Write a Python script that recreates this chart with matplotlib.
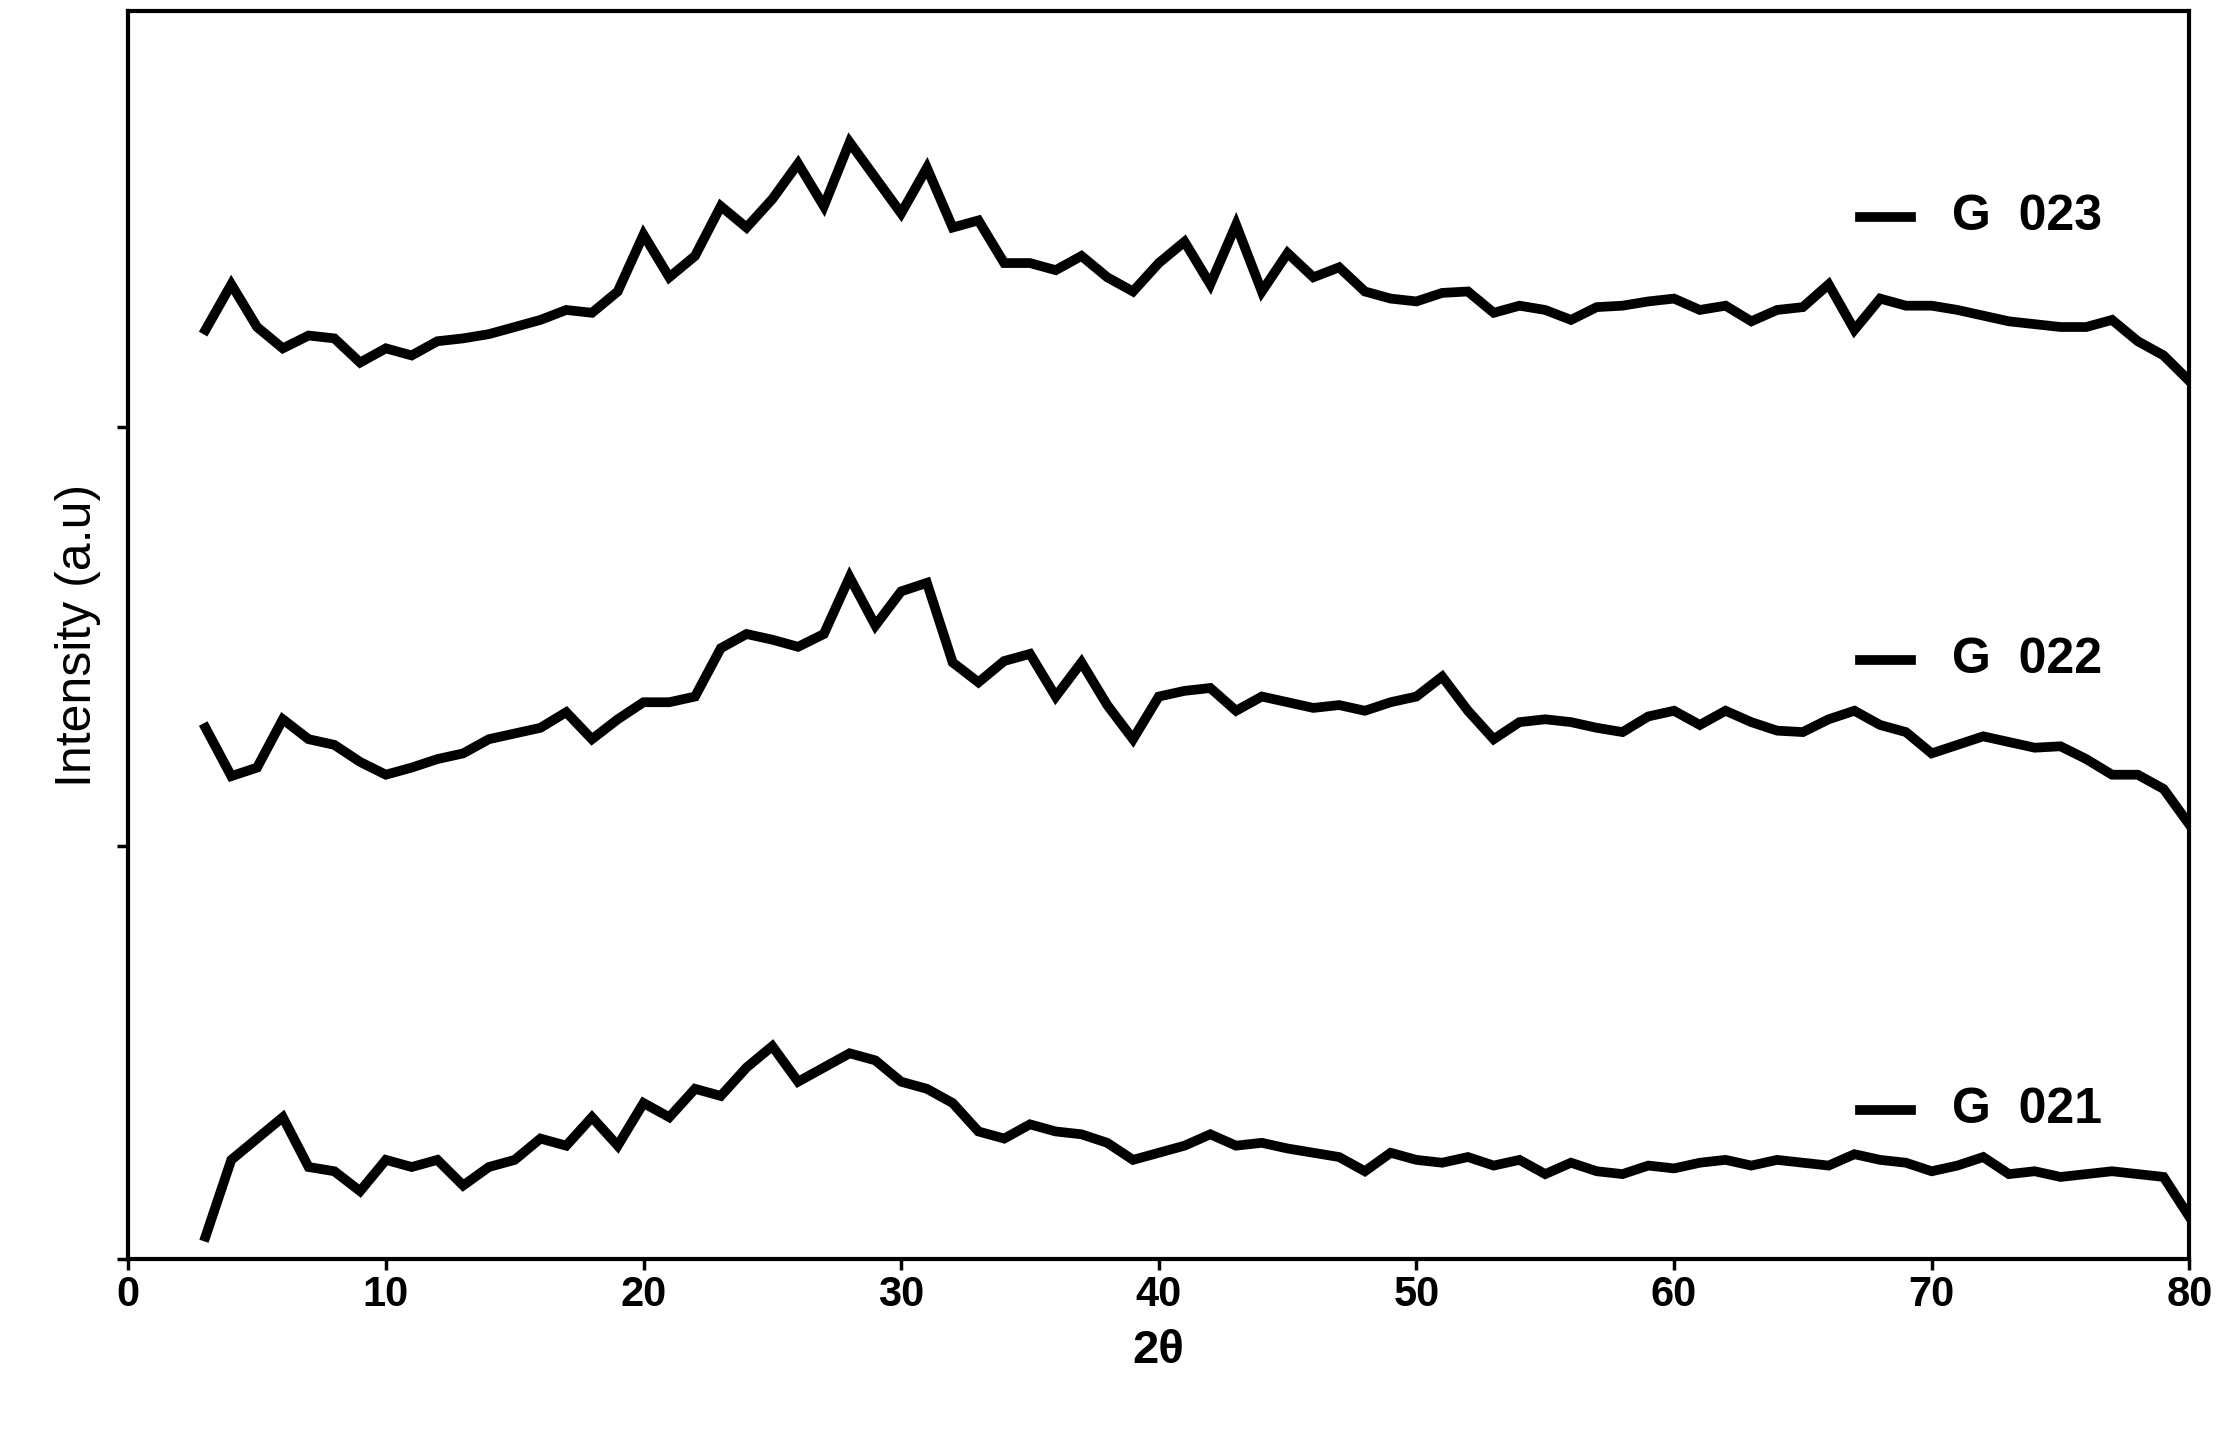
import matplotlib
matplotlib.use('Agg')
import matplotlib.pyplot as plt

plt.rcParams['font.family'] = ['Liberation Sans', 'DejaVu Sans']

two_theta = list(range(3, 81))

g021 = [16, 70, 85, 100, 65, 62, 48, 70, 65, 70, 52, 65, 70, 85, 80, 100, 80, 110, 100, 120,
        115, 135, 150, 125, 135, 145, 140, 125, 120, 110, 90, 85, 95, 90, 88, 82, 70, 75, 80, 88,
        80, 82, 78, 75, 72, 62, 75, 70, 68, 72, 66, 70, 60, 68, 62, 60, 66, 64, 68, 70,
        66, 70, 68, 66, 74, 70, 68, 62, 66, 72, 60, 62, 58, 60, 62, 60, 58, 30]

g022 = [374, 340, 346, 380, 366, 362, 350, 341, 346, 352, 356, 366, 370, 374, 385, 366, 380, 392, 392, 396,
        430, 440, 436, 431, 440, 480, 446, 470, 476, 420, 406, 421, 426, 396, 420, 390, 366, 396, 400, 402,
        386, 396, 392, 388, 390, 386, 392, 396, 410, 386, 366, 378, 380, 378, 374, 371, 382, 386, 376, 386,
        378, 372, 371, 380, 386, 376, 371, 356, 362, 368, 364, 360, 361, 352, 341, 341, 331, 306]

g023 = [654, 686, 656, 641, 650, 648, 631, 641, 636, 646, 648, 651, 656, 661, 668, 666, 681, 721, 691, 706,
        741, 726, 746, 771, 741, 786, 761, 736, 768, 726, 731, 701, 701, 696, 706, 691, 681, 701, 716, 686,
        728, 681, 708, 691, 698, 681, 676, 674, 680, 681, 666, 671, 668, 661, 670, 671, 674, 676, 668, 671,
        660, 668, 670, 686, 654, 676, 671, 671, 668, 664, 660, 658, 656, 656, 661, 646, 636, 618]

labels = ['G  021', 'G  022', 'G  023']
label_y = [0.12, 0.48, 0.835]

fig = plt.figure(figsize=(22.34, 14.36), dpi=100)
ax = fig.add_axes([0.0574, 0.123, 0.9226, 0.869])

for series in (g021, g022, g023):
    ax.plot(two_theta, series, color='black', lw=7, solid_joinstyle='miter')

for lab, yy in zip(labels, label_y):
    ax.plot([0.84, 0.865], [yy, yy], transform=ax.transAxes, color='black', lw=7, clip_on=False)
    ax.text(0.885, yy, lab, transform=ax.transAxes, fontsize=36, fontweight='bold', va='center')

ax.set_xlim(0, 80)
ax.set_ylim(0, 878)
ax.set_xticks(range(0, 81, 10))
ax.set_yticks([0, 291, 586])
ax.set_yticklabels([])
for lbl in ax.get_xticklabels():
    lbl.set_fontweight('bold')
ax.tick_params(axis='x', labelsize=30, width=2.5, length=8)
ax.tick_params(axis='y', width=2.5, length=8)
for sp in ax.spines.values():
    sp.set_linewidth(3)
ax.set_xlabel('2θ', fontsize=34, fontweight='bold', labelpad=10)
ax.set_ylabel('Intensity (a.u)', fontsize=36, labelpad=8)

fig.savefig('out.png', dpi=100)
